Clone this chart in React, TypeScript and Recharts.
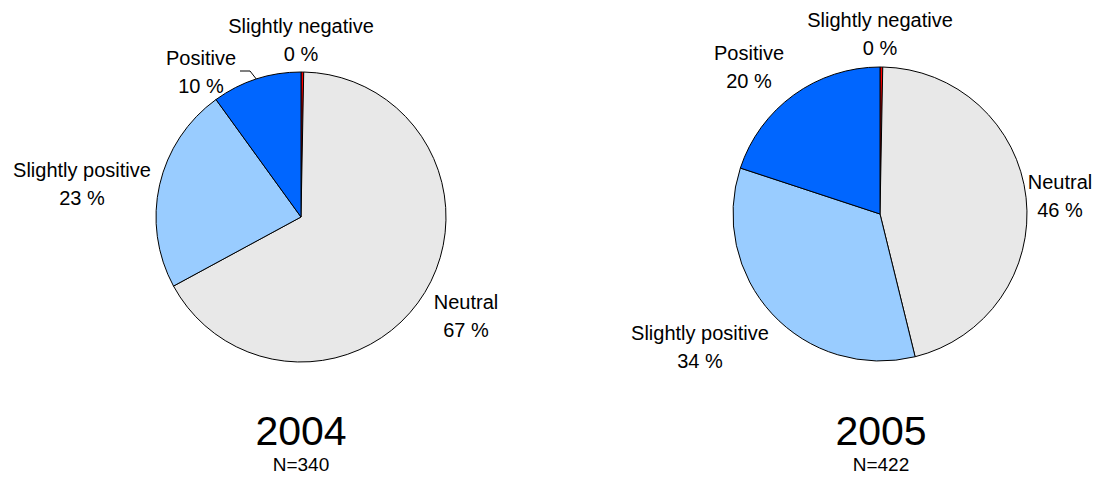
import { PieChart, Pie, Cell } from 'recharts';

const categories = ['Slightly negative', 'Neutral', 'Slightly positive', 'Positive'];
const values2004 = [0.3, 67, 23, 10];
const values2005 = [0.3, 46, 34, 20];
const colors = ['#FF0000', '#E8E8E8', '#99CCFF', '#0066FF'];

const years = ['2004', '2005'];
const sampleSizes = ['N=340', 'N=422'];

// label centre offsets relative to each pie centre
const labelOffsets: Record<string, [number, number]>[] = [
  {
    'Slightly negative': [0, -177],
    Neutral: [165, 99],
    'Slightly positive': [-219, -33],
    Positive: [-100, -145],
  },
  {
    'Slightly negative': [0, -180],
    Neutral: [180, -18],
    'Slightly positive': [-180, 133],
    Positive: [-131, -147],
  },
];

const font = '"Liberation Sans", Arial, sans-serif';

function makeLabel(chartIdx: number) {
  return (props: any) => {
    const { cx, cy, midAngle, outerRadius, name, value } = props;
    const [dx, dy] = labelOffsets[chartIdx][name] || [0, 0];
    const x = cx + dx;
    const y = cy + dy;
    const RAD = Math.PI / 180;
    let line = null;
    if (chartIdx === 0 && name === 'Positive') {
      const ex = cx + outerRadius * Math.cos(-midAngle * RAD);
      const ey = cy + outerRadius * Math.sin(-midAngle * RAD);
      const topY = y - 1;
      line = (
        <polyline
          points={`${x + 39},${topY} ${x + 49},${topY} ${ex},${ey}`}
          fill="none"
          stroke="#000"
          strokeWidth={1}
        />
      );
    }
    return (
      <g>
        {line}
        <text x={x} y={y - 14} textAnchor="middle" dominantBaseline="central" fontSize={20} fontFamily={font} fill="#000">
          {name}
        </text>
        <text x={x} y={y + 14} textAnchor="middle" dominantBaseline="central" fontSize={20} fontFamily={font} fill="#000">
          {Math.round(value)} %
        </text>
      </g>
    );
  };
}

const data2004 = categories.map((name, i) => ({ name, value: values2004[i] }));
const data2005 = categories.map((name, i) => ({ name, value: values2005[i] }));

export default function App() {
  return (
    <div style={{ position: 'relative', width: 1096, height: 477, background: '#fff', overflow: 'hidden' }}>
      <style>{'body{margin:0;overflow:hidden}'}</style>
      <PieChart width={1096} height={477} margin={{ top: 0, right: 0, bottom: 0, left: 0 }}>
        <Pie
          data={data2004}
          dataKey="value"
          nameKey="name"
          cx={301}
          cy={217}
          outerRadius={145}
          startAngle={90}
          endAngle={-270}
          stroke="#000"
          strokeWidth={1}
          label={makeLabel(0)}
          labelLine={false}
          isAnimationActive={false}
        >
          {data2004.map((d, i) => (
            <Cell key={d.name} fill={colors[i]} />
          ))}
        </Pie>
        <Pie
          data={data2005}
          dataKey="value"
          nameKey="name"
          cx={880}
          cy={214}
          outerRadius={147}
          startAngle={90}
          endAngle={-270}
          stroke="#000"
          strokeWidth={1}
          label={makeLabel(1)}
          labelLine={false}
          isAnimationActive={false}
        >
          {data2005.map((d, i) => (
            <Cell key={d.name} fill={colors[i]} />
          ))}
        </Pie>
      </PieChart>
      {years.map((yr, i) => (
        <div
          key={yr}
          style={{
            position: 'absolute',
            left: i === 0 ? 201 : 781,
            top: 408,
            width: 200,
            textAlign: 'center',
            fontFamily: font,
            color: '#000',
          }}
        >
          <div style={{ fontSize: 41, lineHeight: '47px' }}>{yr}</div>
          <div style={{ fontSize: 19, lineHeight: '20px' }}>{sampleSizes[i]}</div>
        </div>
      ))}
    </div>
  );
}
